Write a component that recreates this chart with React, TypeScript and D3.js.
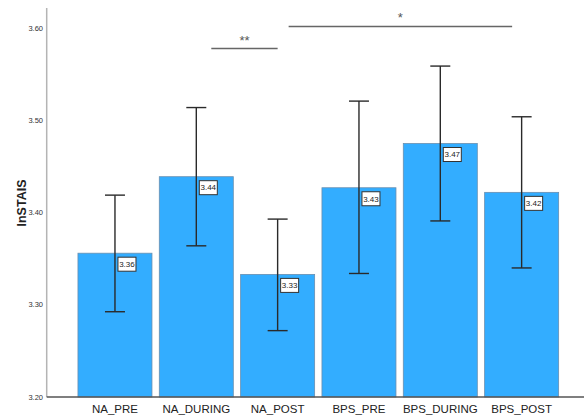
import React from "react";
import * as d3 from "d3";

const categories = ["NA_PRE", "NA_DURING", "NA_POST", "BPS_PRE", "BPS_DURING", "BPS_POST"];
const means = [3.356, 3.439, 3.333, 3.427, 3.475, 3.422];
const labels = ["3.36", "3.44", "3.33", "3.43", "3.47", "3.42"];
const upper = [3.419, 3.514, 3.393, 3.521, 3.559, 3.504];
const lower = [3.2925, 3.364, 3.272, 3.334, 3.391, 3.34];
const yTicks = [3.2, 3.3, 3.4, 3.5, 3.6];
const brackets = [
  { from: "NA_DURING", to: "NA_POST", fromOff: 15, toOff: 0, y: 3.578, label: "**" },
  { from: "NA_POST", to: "BPS_POST", fromOff: 11, toOff: -9.5, y: 3.602, label: "*" },
];

export default function App() {
  const W = 585, H = 420;
  const x = d3.scaleBand<string>().domain(categories).range([74.3, 562.3]).paddingInner(0.09).paddingOuter(0.045);
  const y = d3.scaleLinear().domain([3.2, 3.622]).range([397, 8]);
  const bw = x.bandwidth();
  const font = "'Liberation Sans', Arial, sans-serif";
  return (
    <svg width={W} height={H} style={{ position: "absolute", left: 0, top: 0, background: "#fff" }} fontFamily={font}>
      {/* y axis line */}
      <line x1={46.7} x2={46.7} y1={8} y2={397} stroke="#b4b4b4" strokeWidth={1.5} />
      {yTicks.map((t) => (
        <text key={t} x={43} y={y(t)} dy="0.35em" textAnchor="end" fontSize={7.5} fill="#333">
          {t.toFixed(2)}
        </text>
      ))}
      <text transform={`translate(26,203) rotate(-90)`} textAnchor="middle" fontSize={12.5} fontWeight="bold" fill="#222">
        lnSTAIS
      </text>
      {categories.map((c, i) => {
        const x0 = x(c)!;
        const cx = x0 + bw / 2;
        const top = y(means[i]);
        return (
          <g key={c}>
            <rect x={x0} y={top} width={bw} height={y(3.2) - top} fill="#33adff" stroke="#6a8fb0" strokeWidth={0.8} />
          </g>
        );
      })}
      {/* x axis line */}
      <line x1={46.7} x2={584} y1={397} y2={397} stroke="#555" strokeWidth={1.3} />
      {categories.map((c, i) => {
        const cx = x(c)! + bw / 2;
        const yu = y(upper[i]);
        const yl = y(lower[i]);
        return (
          <g key={c + "e"} stroke="#2a2a2a" strokeWidth={1.4}>
            <line x1={cx} x2={cx} y1={yu} y2={yl} />
            <line x1={cx - 10} x2={cx + 10} y1={yu} y2={yu} />
            <line x1={cx - 10} x2={cx + 10} y1={yl} y2={yl} />
          </g>
        );
      })}
      {categories.map((c, i) => {
        const cx = x(c)! + bw / 2;
        const top = y(means[i]);
        return (
          <g key={c + "l"}>
            <rect x={cx + 3} y={top + 4} width={18} height={14} fill="#fff" stroke="#333" strokeWidth={1} />
            <text x={cx + 12} y={top + 11} dy="0.35em" textAnchor="middle" fontSize={8} fill="#222">
              {labels[i]}
            </text>
          </g>
        );
      })}
      {categories.map((c) => (
        <text key={c + "t"} x={x(c)! + bw / 2} y={413} textAnchor="middle" fontSize={11.5} fill="#222">
          {c}
        </text>
      ))}
      {brackets.map((b) => {
        const x1 = x(b.from)! + bw / 2 + b.fromOff;
        const x2 = x(b.to)! + bw / 2 + b.toOff;
        const yy = y(b.y);
        return (
          <g key={b.label}>
            <line x1={x1} x2={x2} y1={yy} y2={yy} stroke="#666" strokeWidth={1.5} />
            <text x={(x1 + x2) / 2} y={yy - 4} textAnchor="middle" fontSize={13} fill="#555">
              {b.label}
            </text>
          </g>
        );
      })}
    </svg>
  );
}
